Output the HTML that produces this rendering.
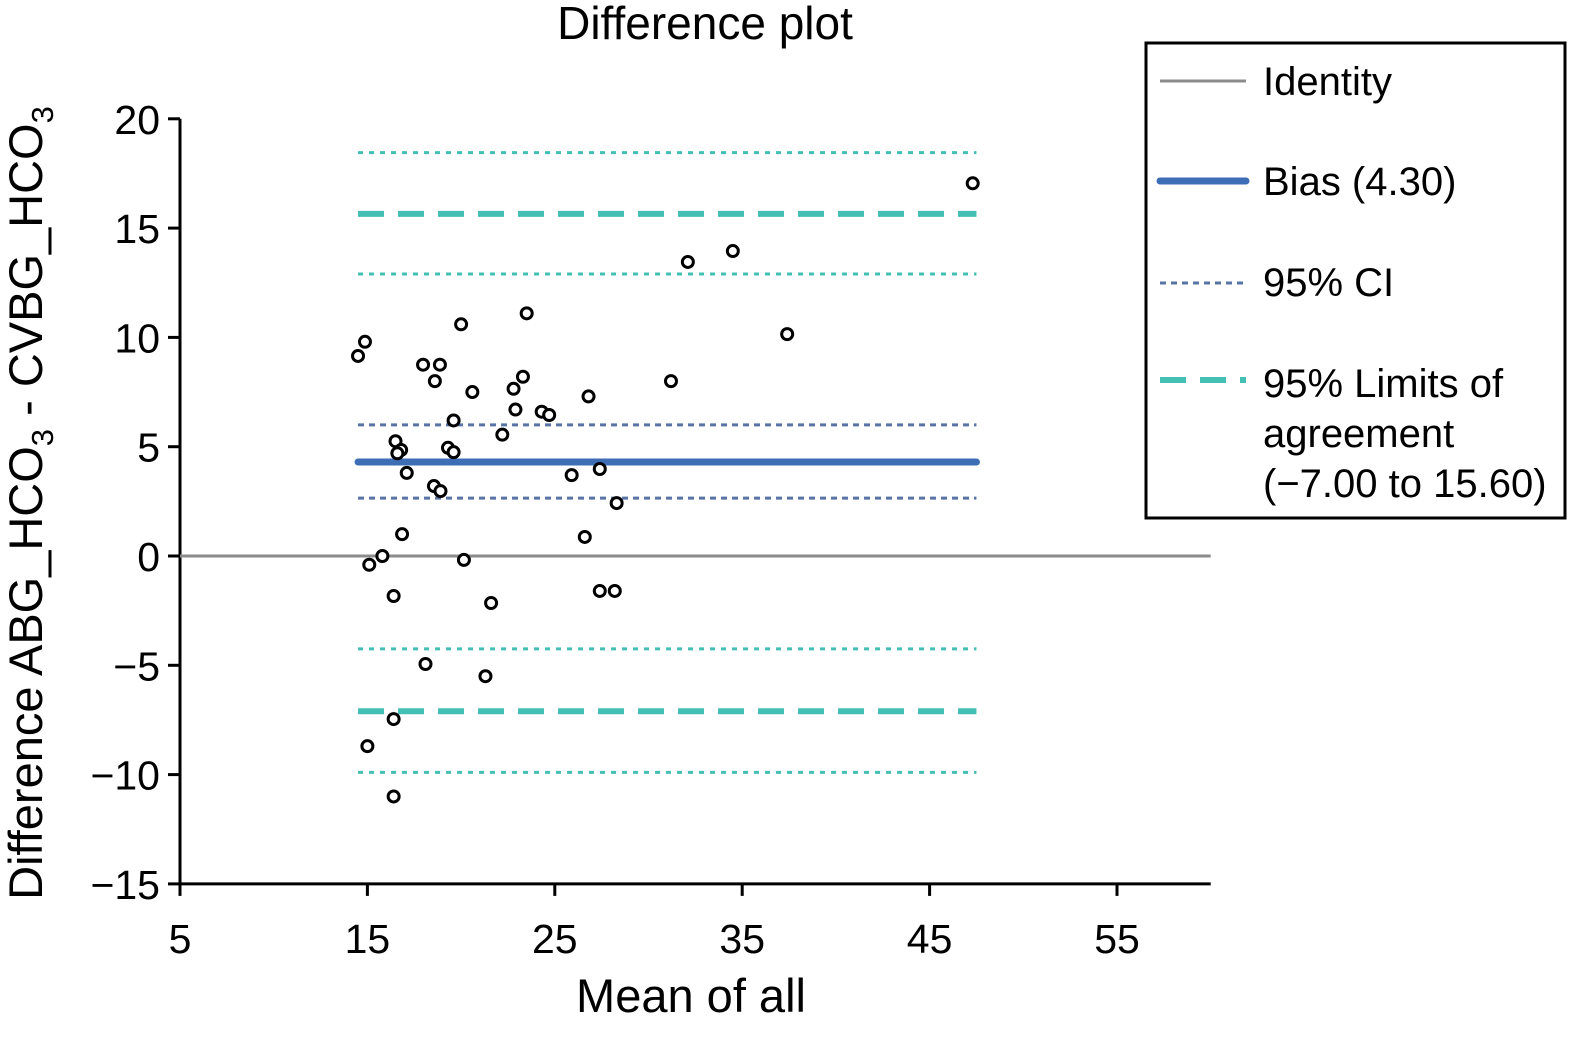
<!DOCTYPE html>
<html><head><meta charset="utf-8"><style>
body{margin:0;background:#fff;}
svg text{font-family:"Liberation Sans",Arial,sans-serif;fill:#000;}
</style></head><body>
<svg id="chart" width="1588" height="1035" viewBox="0 0 1588 1035" xmlns="http://www.w3.org/2000/svg">
<text x="705" y="39" font-size="46" text-anchor="middle">Difference plot</text>
<g id="axes"></g>
<g id="lines"></g>
<g id="points"></g>
<text x="691" y="1012" font-size="47" text-anchor="middle">Mean of all</text>
<text transform="translate(42,503) rotate(-90)" font-size="47" text-anchor="middle">Difference ABG_HCO<tspan font-size="31" dy="11">3</tspan><tspan dy="-11"> - CVBG_HCO</tspan><tspan font-size="31" dy="11">3</tspan></text>
<g>
<rect x="1146" y="43" width="419" height="475" fill="#fff" stroke="#000" stroke-width="3"/>
<line x1="1160" y1="81" x2="1246" y2="81" stroke="#8c8c8c" stroke-width="3"/>
<text x="1263" y="95" font-size="40">Identity</text>
<line x1="1160" y1="181" x2="1246" y2="181" stroke="#3d6db5" stroke-width="7" stroke-linecap="round"/>
<text x="1263" y="195" font-size="40">Bias (4.30)</text>
<line x1="1160" y1="283" x2="1246" y2="283" stroke="#5a73a5" stroke-width="3" stroke-dasharray="6,5"/>
<text x="1263" y="296" font-size="40">95% CI</text>
<line x1="1160" y1="380" x2="1246" y2="380" stroke="#44bfb3" stroke-width="6" stroke-dasharray="26,14"/>
<text x="1263" y="397" font-size="40">95% Limits of</text>
<text x="1263" y="447" font-size="40">agreement</text>
<text x="1263" y="497" font-size="40">(−7.00 to 15.60)</text>
</g>
</svg>
<script>
const xTicks=[5,15,25,35,45,55];
const yTicks=[20,15,10,5,0,-5,-10,-15];
const yTickLabels=["20","15","10","5","0","−5","−10","−15"];
const ptX=[14.5,14.87,17.97,18.87,18.6,20.0,23.5,20.6,23.3,22.8,22.9,24.3,24.7,26.8,31.2,32.1,34.5,37.4,47.3,19.6,22.2,16.5,19.3,16.8,19.6,16.6,17.1,25.9,27.4,18.55,18.9,28.3,16.85,26.6,15.8,15.1,20.15,16.4,27.4,28.2,21.6,18.1,21.3,16.4,15.0,16.4];
const ptY=[9.15,9.8,8.75,8.75,8.0,10.6,11.1,7.5,8.2,7.65,6.7,6.6,6.45,7.3,8.0,13.45,13.95,10.15,17.05,6.2,5.55,5.25,4.95,4.85,4.75,4.7,3.8,3.7,3.98,3.2,2.97,2.42,1.0,0.87,0.0,-0.4,-0.18,-1.83,-1.6,-1.6,-2.15,-4.94,-5.5,-7.46,-8.7,-11.0];
const bias=[4.3];
const biasCI=[6.0,2.65];
const limits=[15.65,-7.1];
const limitsCI=[18.45,12.9,-4.25,-9.9];
const lineRange=[14.5,47.5];
const NS="http://www.w3.org/2000/svg";
const sx=v=>180+(v-5)*18.74;
const sy=v=>556-v*21.86;
function mk(tag,attrs,parent){const e=document.createElementNS(NS,tag);for(const k in attrs)e.setAttribute(k,attrs[k]);parent.appendChild(e);return e;}
const ax=document.getElementById('axes');
let e=mk('line',{x1:180,y1:sy(20),x2:180,y2:sy(-15),stroke:'#000','stroke-width':3},ax);


e=mk('line',{x1:180,y1:sy(-15),x2:sx(60),y2:sy(-15),stroke:'#000','stroke-width':3},ax);


xTicks.forEach(v=>{mk('line',{x1:sx(v),y1:sy(-15),x2:sx(v),y2:sy(-15)+12,stroke:'#000','stroke-width':3},ax);
const t=mk('text',{x:sx(v),y:953,'font-size':41,'text-anchor':'middle'},ax);t.textContent=v;

});
yTicks.forEach((v,i)=>{mk('line',{x1:168,y1:sy(v),x2:180,y2:sy(v),stroke:'#000','stroke-width':3},ax);
const t=mk('text',{x:160,y:sy(v)+15,'font-size':41,'text-anchor':'end'},ax);t.textContent=yTickLabels[i];

});
const ln=document.getElementById('lines');
e=mk('line',{x1:sx(5),y1:sy(0),x2:sx(60),y2:sy(0),stroke:'#8c8c8c','stroke-width':3},ln);


limitsCI.forEach(v=>{const l=mk('line',{x1:sx(lineRange[0]),y1:sy(v),x2:sx(lineRange[1]),y2:sy(v),stroke:'#44bfb3','stroke-width':3,'stroke-dasharray':'5,6'},ln);

});
limits.forEach(v=>{const l=mk('line',{x1:sx(lineRange[0]),y1:sy(v),x2:sx(lineRange[1]),y2:sy(v),stroke:'#44bfb3','stroke-width':6,'stroke-dasharray':'26,14'},ln);

});
biasCI.forEach(v=>{const l=mk('line',{x1:sx(lineRange[0]),y1:sy(v),x2:sx(lineRange[1]),y2:sy(v),stroke:'#5a73a5','stroke-width':3,'stroke-dasharray':'6,5'},ln);

});
bias.forEach(v=>{const l=mk('line',{x1:sx(lineRange[0]),y1:sy(v),x2:sx(lineRange[1]),y2:sy(v),stroke:'#3d6db5','stroke-width':7,'stroke-linecap':'round'},ln);

});
const pg=document.getElementById('points');
ptX.forEach((x,i)=>{const c=mk('circle',{cx:sx(x),cy:sy(ptY[i]),r:5.5,fill:'#fff',stroke:'#000','stroke-width':3},pg);

});
</script>
</body></html>
